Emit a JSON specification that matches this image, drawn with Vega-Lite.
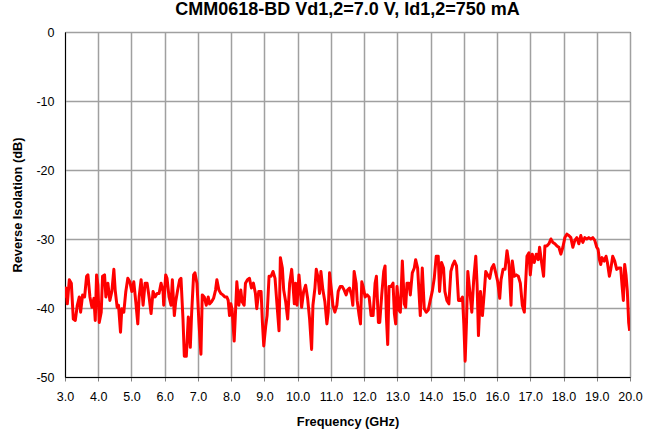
{
  "$schema": "https://vega.github.io/schema/vega-lite/v6.json",
  "autosize": "none",
  "width": 565,
  "height": 345,
  "padding": {"left": 65, "top": 32, "right": 21, "bottom": 56},
  "background": "white",
  "title": {
    "text": "CMM0618-BD Vd1,2=7.0 V, Id1,2=750 mA",
    "font": "Liberation Sans",
    "fontSize": 18,
    "fontWeight": "bold",
    "color": "black",
    "anchor": "middle",
    "offset": 7
  },
  "config": {
    "view": {"stroke": "black", "strokeWidth": 1},
    "axis": {
      "labelFont": "Liberation Sans",
      "titleFont": "Liberation Sans",
      "labelFontSize": 12.5,
      "titleFontSize": 12.8,
      "titleFontWeight": "bold",
      "labelColor": "black",
      "titleColor": "black",
      "gridColor": "#a0a0a0",
      "gridWidth": 1.5,
      "gridOpacity": 1,
      "domainColor": "black",
      "tickColor": "#808080",
      "tickSize": 4
    }
  },
  "data": {
    "values": [
      {"f": 3.0, "db": -38.5}, {"f": 3.03, "db": -37.1}, {"f": 3.07, "db": -39.4}, {"f": 3.13, "db": -35.9}, {"f": 3.19, "db": -36.4},
      {"f": 3.25, "db": -41.6}, {"f": 3.31, "db": -41.8}, {"f": 3.37, "db": -39.6}, {"f": 3.43, "db": -38.4}, {"f": 3.47, "db": -40.6},
      {"f": 3.53, "db": -38.1}, {"f": 3.59, "db": -38.4}, {"f": 3.65, "db": -35.4}, {"f": 3.69, "db": -35.2}, {"f": 3.75, "db": -38.4},
      {"f": 3.81, "db": -39.9}, {"f": 3.87, "db": -38.6}, {"f": 3.91, "db": -41.8}, {"f": 3.95, "db": -35.2}, {"f": 3.99, "db": -36.7},
      {"f": 4.03, "db": -42.1}, {"f": 4.09, "db": -40.6}, {"f": 4.13, "db": -35.4}, {"f": 4.19, "db": -35.2}, {"f": 4.23, "db": -38.4},
      {"f": 4.29, "db": -36.4}, {"f": 4.35, "db": -38.9}, {"f": 4.41, "db": -37.6}, {"f": 4.47, "db": -34.4}, {"f": 4.51, "db": -37.4},
      {"f": 4.57, "db": -39.9}, {"f": 4.61, "db": -39.6}, {"f": 4.67, "db": -43.5}, {"f": 4.71, "db": -40.1}, {"f": 4.77, "db": -40.6},
      {"f": 4.83, "db": -37.6}, {"f": 4.89, "db": -35.7}, {"f": 4.95, "db": -36.2}, {"f": 5.01, "db": -37.6}, {"f": 5.07, "db": -36.2},
      {"f": 5.13, "db": -39.1}, {"f": 5.19, "db": -42.3}, {"f": 5.23, "db": -38.4}, {"f": 5.29, "db": -35.9}, {"f": 5.35, "db": -39.6},
      {"f": 5.41, "db": -36.4}, {"f": 5.47, "db": -36.4}, {"f": 5.53, "db": -38.4}, {"f": 5.59, "db": -40.8}, {"f": 5.65, "db": -37.6},
      {"f": 5.71, "db": -38.4}, {"f": 5.77, "db": -37.9}, {"f": 5.83, "db": -37.9}, {"f": 5.89, "db": -36.4}, {"f": 5.95, "db": -37.6},
      {"f": 5.97, "db": -39.6}, {"f": 6.03, "db": -35.2}, {"f": 6.07, "db": -35.7}, {"f": 6.13, "db": -38.4}, {"f": 6.19, "db": -39.6},
      {"f": 6.23, "db": -35.9}, {"f": 6.29, "db": -41.1}, {"f": 6.33, "db": -39.1}, {"f": 6.39, "db": -37.4}, {"f": 6.45, "db": -35.9},
      {"f": 6.49, "db": -35.7}, {"f": 6.55, "db": -41.6}, {"f": 6.59, "db": -47.0}, {"f": 6.65, "db": -47.0}, {"f": 6.71, "db": -41.3},
      {"f": 6.77, "db": -45.7}, {"f": 6.81, "db": -40.8}, {"f": 6.87, "db": -35.2}, {"f": 6.91, "db": -34.9}, {"f": 6.97, "db": -36.4},
      {"f": 7.03, "db": -42.1}, {"f": 7.09, "db": -46.7}, {"f": 7.13, "db": -38.1}, {"f": 7.19, "db": -38.4}, {"f": 7.25, "db": -39.6},
      {"f": 7.31, "db": -38.4}, {"f": 7.35, "db": -39.4}, {"f": 7.41, "db": -39.1}, {"f": 7.47, "db": -38.6}, {"f": 7.53, "db": -37.4},
      {"f": 7.57, "db": -35.9}, {"f": 7.63, "db": -37.4}, {"f": 7.69, "db": -37.9}, {"f": 7.75, "db": -38.1}, {"f": 7.81, "db": -38.4},
      {"f": 7.87, "db": -38.4}, {"f": 7.91, "db": -38.9}, {"f": 7.95, "db": -41.1}, {"f": 7.99, "db": -39.4}, {"f": 8.03, "db": -40.3},
      {"f": 8.09, "db": -44.8}, {"f": 8.13, "db": -40.6}, {"f": 8.17, "db": -36.2}, {"f": 8.23, "db": -39.6}, {"f": 8.29, "db": -37.4},
      {"f": 8.33, "db": -39.1}, {"f": 8.39, "db": -39.6}, {"f": 8.43, "db": -36.4}, {"f": 8.49, "db": -35.9}, {"f": 8.55, "db": -35.7},
      {"f": 8.61, "db": -37.1}, {"f": 8.67, "db": -36.4}, {"f": 8.73, "db": -37.9}, {"f": 8.77, "db": -40.1}, {"f": 8.83, "db": -37.6},
      {"f": 8.90, "db": -37.6}, {"f": 8.94, "db": -42.1}, {"f": 8.98, "db": -45.5}, {"f": 9.04, "db": -42.6}, {"f": 9.08, "db": -41.1},
      {"f": 9.14, "db": -35.4}, {"f": 9.20, "db": -35.4}, {"f": 9.26, "db": -34.7}, {"f": 9.32, "db": -35.7}, {"f": 9.38, "db": -39.6},
      {"f": 9.44, "db": -43.3}, {"f": 9.48, "db": -32.7}, {"f": 9.54, "db": -34.2}, {"f": 9.58, "db": -37.4}, {"f": 9.64, "db": -39.1},
      {"f": 9.70, "db": -41.6}, {"f": 9.76, "db": -36.4}, {"f": 9.82, "db": -34.4}, {"f": 9.86, "db": -36.7}, {"f": 9.90, "db": -39.4},
      {"f": 9.94, "db": -36.4}, {"f": 9.98, "db": -39.6}, {"f": 10.04, "db": -35.2}, {"f": 10.08, "db": -37.4}, {"f": 10.12, "db": -39.9},
      {"f": 10.18, "db": -37.6}, {"f": 10.24, "db": -36.7}, {"f": 10.30, "db": -38.6}, {"f": 10.36, "db": -41.6}, {"f": 10.42, "db": -46.0},
      {"f": 10.46, "db": -39.6}, {"f": 10.52, "db": -37.1}, {"f": 10.56, "db": -34.4}, {"f": 10.62, "db": -35.7}, {"f": 10.66, "db": -37.9},
      {"f": 10.70, "db": -34.7}, {"f": 10.76, "db": -37.4}, {"f": 10.82, "db": -39.1}, {"f": 10.88, "db": -42.3}, {"f": 10.92, "db": -40.6},
      {"f": 10.96, "db": -34.9}, {"f": 11.02, "db": -37.6}, {"f": 11.06, "db": -39.6}, {"f": 11.12, "db": -40.6}, {"f": 11.18, "db": -39.6},
      {"f": 11.22, "db": -37.6}, {"f": 11.28, "db": -36.9}, {"f": 11.34, "db": -36.9}, {"f": 11.40, "db": -37.4}, {"f": 11.46, "db": -38.1},
      {"f": 11.50, "db": -37.4}, {"f": 11.56, "db": -37.1}, {"f": 11.62, "db": -38.1}, {"f": 11.66, "db": -39.6}, {"f": 11.70, "db": -34.7},
      {"f": 11.76, "db": -36.4}, {"f": 11.79, "db": -38.9}, {"f": 11.85, "db": -41.1}, {"f": 11.89, "db": -42.3}, {"f": 11.93, "db": -36.2},
      {"f": 11.97, "db": -36.9}, {"f": 12.03, "db": -38.4}, {"f": 12.09, "db": -38.1}, {"f": 12.15, "db": -38.4}, {"f": 12.21, "db": -41.1},
      {"f": 12.27, "db": -41.1}, {"f": 12.33, "db": -36.4}, {"f": 12.37, "db": -35.4}, {"f": 12.43, "db": -42.1}, {"f": 12.47, "db": -42.1},
      {"f": 12.53, "db": -38.1}, {"f": 12.59, "db": -34.7}, {"f": 12.63, "db": -33.9}, {"f": 12.67, "db": -41.3}, {"f": 12.71, "db": -45.3},
      {"f": 12.75, "db": -36.9}, {"f": 12.81, "db": -36.9}, {"f": 12.87, "db": -36.4}, {"f": 12.91, "db": -40.8}, {"f": 12.95, "db": -42.3},
      {"f": 12.99, "db": -36.9}, {"f": 13.05, "db": -40.3}, {"f": 13.09, "db": -40.6}, {"f": 13.15, "db": -33.2}, {"f": 13.21, "db": -39.4},
      {"f": 13.25, "db": -39.9}, {"f": 13.29, "db": -36.4}, {"f": 13.35, "db": -36.4}, {"f": 13.39, "db": -38.1}, {"f": 13.45, "db": -34.9},
      {"f": 13.51, "db": -34.2}, {"f": 13.55, "db": -33.0}, {"f": 13.61, "db": -34.2}, {"f": 13.65, "db": -37.6}, {"f": 13.69, "db": -41.1},
      {"f": 13.75, "db": -34.2}, {"f": 13.81, "db": -40.1}, {"f": 13.87, "db": -40.6}, {"f": 13.93, "db": -40.3}, {"f": 13.99, "db": -38.9},
      {"f": 14.05, "db": -37.6}, {"f": 14.11, "db": -35.7}, {"f": 14.17, "db": -32.5}, {"f": 14.23, "db": -32.5}, {"f": 14.27, "db": -37.6},
      {"f": 14.33, "db": -33.4}, {"f": 14.39, "db": -34.2}, {"f": 14.43, "db": -37.6}, {"f": 14.49, "db": -38.9}, {"f": 14.55, "db": -39.4},
      {"f": 14.61, "db": -34.7}, {"f": 14.67, "db": -33.7}, {"f": 14.72, "db": -33.2}, {"f": 14.78, "db": -33.9}, {"f": 14.84, "db": -38.9},
      {"f": 14.90, "db": -38.9}, {"f": 14.96, "db": -38.4}, {"f": 15.00, "db": -42.3}, {"f": 15.04, "db": -47.7}, {"f": 15.08, "db": -42.1},
      {"f": 15.12, "db": -34.7}, {"f": 15.18, "db": -37.6}, {"f": 15.24, "db": -40.6}, {"f": 15.30, "db": -35.7}, {"f": 15.36, "db": -32.5},
      {"f": 15.40, "db": -36.7}, {"f": 15.44, "db": -44.0}, {"f": 15.50, "db": -37.6}, {"f": 15.56, "db": -41.1}, {"f": 15.62, "db": -37.4},
      {"f": 15.66, "db": -34.7}, {"f": 15.72, "db": -35.2}, {"f": 15.78, "db": -35.7}, {"f": 15.84, "db": -34.2}, {"f": 15.90, "db": -33.7},
      {"f": 15.96, "db": -34.9}, {"f": 16.02, "db": -36.2}, {"f": 16.08, "db": -38.6}, {"f": 16.12, "db": -35.9}, {"f": 16.18, "db": -34.4},
      {"f": 16.24, "db": -34.4}, {"f": 16.30, "db": -31.7}, {"f": 16.36, "db": -33.7}, {"f": 16.42, "db": -39.6}, {"f": 16.46, "db": -33.2},
      {"f": 16.52, "db": -35.4}, {"f": 16.58, "db": -35.2}, {"f": 16.64, "db": -35.4}, {"f": 16.70, "db": -36.4}, {"f": 16.76, "db": -39.6},
      {"f": 16.82, "db": -40.6}, {"f": 16.86, "db": -36.4}, {"f": 16.90, "db": -32.5}, {"f": 16.96, "db": -32.0}, {"f": 17.00, "db": -35.2},
      {"f": 17.06, "db": -32.2}, {"f": 17.12, "db": -33.4}, {"f": 17.18, "db": -32.2}, {"f": 17.24, "db": -33.0}, {"f": 17.28, "db": -31.2},
      {"f": 17.34, "db": -33.4}, {"f": 17.40, "db": -35.4}, {"f": 17.44, "db": -31.0}, {"f": 17.50, "db": -31.0}, {"f": 17.56, "db": -30.7},
      {"f": 17.62, "db": -30.0}, {"f": 17.68, "db": -30.5}, {"f": 17.74, "db": -30.7}, {"f": 17.80, "db": -31.0}, {"f": 17.86, "db": -31.2},
      {"f": 17.92, "db": -32.2}, {"f": 17.98, "db": -31.2}, {"f": 18.04, "db": -29.8}, {"f": 18.10, "db": -29.3}, {"f": 18.16, "db": -29.5},
      {"f": 18.22, "db": -29.8}, {"f": 18.28, "db": -31.2}, {"f": 18.34, "db": -30.2}, {"f": 18.40, "db": -29.8}, {"f": 18.46, "db": -30.7},
      {"f": 18.52, "db": -29.5}, {"f": 18.58, "db": -30.5}, {"f": 18.64, "db": -29.8}, {"f": 18.70, "db": -30.0}, {"f": 18.76, "db": -29.8},
      {"f": 18.82, "db": -30.0}, {"f": 18.88, "db": -29.8}, {"f": 18.94, "db": -30.2}, {"f": 19.00, "db": -31.2}, {"f": 19.04, "db": -31.5},
      {"f": 19.08, "db": -33.0}, {"f": 19.12, "db": -33.7}, {"f": 19.16, "db": -32.7}, {"f": 19.22, "db": -33.2}, {"f": 19.28, "db": -32.5},
      {"f": 19.32, "db": -33.4}, {"f": 19.38, "db": -35.4}, {"f": 19.42, "db": -34.4}, {"f": 19.48, "db": -32.5}, {"f": 19.54, "db": -33.2},
      {"f": 19.60, "db": -34.4}, {"f": 19.66, "db": -34.2}, {"f": 19.72, "db": -34.2}, {"f": 19.76, "db": -36.7}, {"f": 19.80, "db": -38.9},
      {"f": 19.84, "db": -33.7}, {"f": 19.88, "db": -35.2}, {"f": 19.92, "db": -37.6}, {"f": 19.96, "db": -42.1}, {"f": 19.99, "db": -43.3}
    ]
  },
  "mark": {"type": "line", "color": "#ff0000", "strokeWidth": 3, "strokeJoin": "round", "clip": true},
  "encoding": {
    "x": {
      "field": "f",
      "type": "quantitative",
      "scale": {"domain": [3, 20], "nice": false, "zero": false},
      "axis": {
        "title": "Frequency (GHz)",
        "values": [3, 4, 5, 6, 7, 8, 9, 10, 11, 12, 13, 14, 15, 16, 17, 18, 19, 20],
        "format": ".1f",
        "labelPadding": 9,
        "titlePadding": 13,
        "labelFlush": false
      }
    },
    "y": {
      "field": "db",
      "type": "quantitative",
      "scale": {"domain": [-50, 0], "nice": false, "zero": false},
      "axis": {
        "title": "Reverse Isolation (dB)",
        "values": [-50, -40, -30, -20, -10, 0],
        "labelExpr": "'' + datum.value",
        "tickSize": 0,
        "labelPadding": 11,
        "titlePadding": 11,
        "labelFlush": false
      }
    }
  }
}
